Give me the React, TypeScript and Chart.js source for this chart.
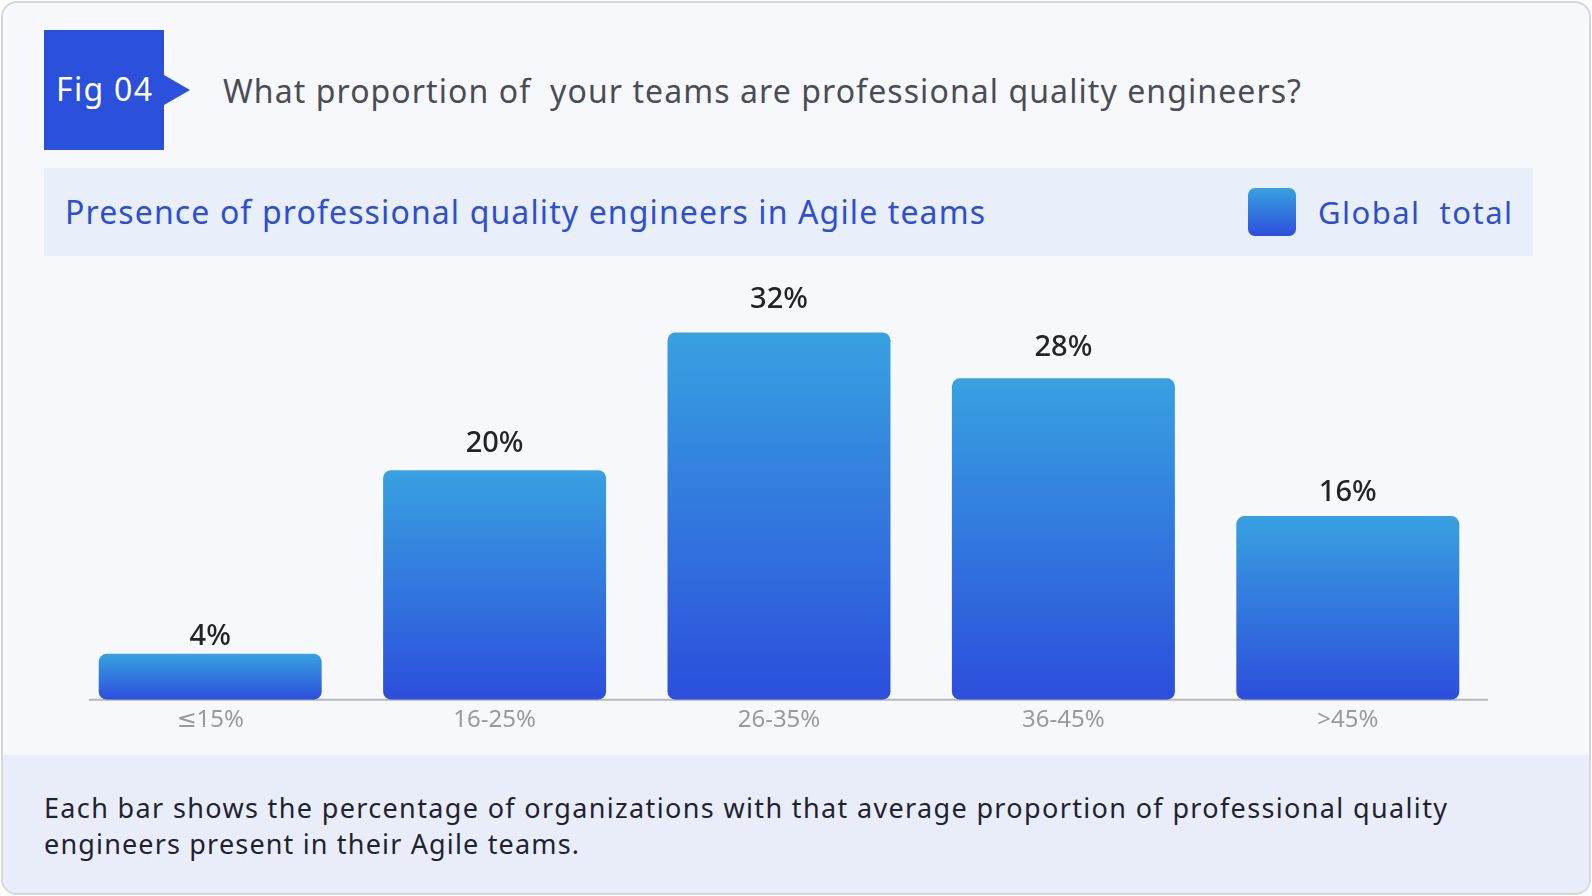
import React, { useEffect, useRef } from 'react';
import Chart from 'chart.js/auto';

const categories = ['≤15%', '16-25%', '26-35%', '36-45%', '>45%'];
const values = [4, 20, 32, 28, 16];
const valueLabels = ['4%', '20%', '32%', '28%', '16%'];

const FAMILY = '"Noto Sans", "DejaVu Sans", sans-serif';
const BLUE = '#2b50dc';
const GRAD_TOP = '#38a1e0';
const GRAD_BOTTOM = '#2c4edc';

const measureCtx = typeof document !== 'undefined' ? document.createElement('canvas').getContext('2d') : null;

function spacingFor(text: string, size: number, weight: number, target: number) {
  if (!measureCtx) return 0;
  measureCtx.font = `${weight} ${size}px ${FAMILY}`;
  const w = measureCtx.measureText(text).width;
  return (target - w) / Math.max(1, text.length - 1);
}

function FitText(props: {
  text: string; size: number; weight?: number; color: string; left: number; centerY: number; target: number;
}) {
  const weight = props.weight ?? 400;
  const ls = spacingFor(props.text, props.size, weight, props.target);
  return (
    <div
      style={{
        position: 'absolute',
        left: props.left,
        top: props.centerY - props.size * 0.53,
        fontFamily: FAMILY,
        fontSize: props.size,
        fontWeight: weight,
        lineHeight: 1,
        color: props.color,
        whiteSpace: 'pre',
        letterSpacing: ls,
      }}
    >
      {props.text}
    </div>
  );
}

const barExtras = {
  id: 'barExtras',
  beforeDatasetsDraw(chart: any) {
    const { ctx, chartArea, scales } = chart;
    const y0 = scales.y.getPixelForValue(0);
    ctx.save();
    ctx.strokeStyle = '#b8b8b8';
    ctx.lineWidth = 2;
    ctx.beginPath();
    ctx.moveTo(chartArea.left + 21, y0);
    ctx.lineTo(chartArea.right - 2, y0);
    ctx.stroke();
    ctx.restore();
  },
  afterDatasetsDraw(chart: any) {
    const { ctx, scales } = chart;
    const meta = chart.getDatasetMeta(0);
    ctx.save();
    ctx.font = `500 29px ${FAMILY}`;
    ctx.fillStyle = '#222428';
    ctx.textAlign = 'center';
    ctx.textBaseline = 'middle';
    meta.data.forEach((bar: any, i: number) => {
      const y = scales.y.getPixelForValue(values[i] * 1.05) - 14.5;
      ctx.fillText(valueLabels[i], bar.x, y);
    });
    ctx.restore();
  },
};

function BarChart() {
  const ref = useRef<HTMLCanvasElement>(null);
  useEffect(() => {
    if (!ref.current) return;
    const chart = new Chart(ref.current, {
      type: 'bar',
      data: {
        labels: categories,
        datasets: [
          {
            label: 'Global  total',
            data: values,
            backgroundColor: (c: any) => {
              const ch = c.chart;
              if (!ch.chartArea || c.raw === undefined) return BLUE;
              const top = ch.scales.y.getPixelForValue(c.raw);
              const bottom = ch.scales.y.getPixelForValue(0);
              const g = ch.ctx.createLinearGradient(0, top, 0, bottom);
              g.addColorStop(0, GRAD_TOP);
              g.addColorStop(1, GRAD_BOTTOM);
              return g;
            },
            borderRadius: 8,
            borderSkipped: false,
            barPercentage: 0.784,
            categoryPercentage: 1,
          },
        ],
      },
      options: {
        responsive: false,
        animation: false,
        layout: { padding: { left: 68, right: 102, top: 15, bottom: 19.5 } },
        plugins: { legend: { display: false }, tooltip: { enabled: false } },
        scales: {
          x: {
            grid: { display: false, drawTicks: false },
            border: { display: false },
            ticks: {
              color: '#9a9a9a',
              font: { family: FAMILY, size: 24, weight: 400 },
              padding: 6,
            },
          },
          y: { display: false, min: 0, max: 37 },
        },
      },
      plugins: [barExtras],
    });
    return () => chart.destroy();
  }, []);
  return (
    <canvas
      ref={ref}
      width={1592}
      height={500}
      style={{ position: 'absolute', left: 0, top: 260, width: 1592, height: 500 }}
    />
  );
}

export default function App() {
  useEffect(() => {
    document.body.style.margin = '0';
  }, []);
  return (
    <div style={{ position: 'relative', width: 1592, height: 896, overflow: 'hidden', background: '#ffffff' }}>
      <div
        style={{
          position: 'absolute', left: 1, top: 1, width: 1586, height: 890,
          border: '2px solid #d3d6db', borderRadius: 16, background: '#f6f8fc', overflow: 'hidden',
        }}
      >
        <div style={{ position: 'absolute', left: 0, right: 0, top: 752, bottom: 0, background: '#e9edfa' }} />
      </div>
      <div style={{ position: 'absolute', left: 44, top: 30, width: 120, height: 120, background: BLUE }} />
      <div
        style={{
          position: 'absolute', left: 164, top: 75, width: 0, height: 0,
          borderTop: '15px solid transparent', borderBottom: '15px solid transparent', borderLeft: `26px solid ${BLUE}`,
        }}
      />
      <FitText text="Fig 04" size={32} color="#ffffff" left={56} centerY={90} target={96} />
      <FitText
        text="What proportion of  your teams are professional quality engineers?"
        size={32} color="#4a4d55" left={223} centerY={91.5} target={1078}
      />
      <div style={{ position: 'absolute', left: 44, top: 168, width: 1489, height: 88, background: '#e9eefb' }} />
      <FitText
        text="Presence of professional quality engineers in Agile teams"
        size={32} color="#2c4fd3" left={65} centerY={212.5} target={920}
      />
      <div
        style={{
          position: 'absolute', left: 1248, top: 188, width: 48, height: 48, borderRadius: 7,
          background: `linear-gradient(to bottom, ${GRAD_TOP}, ${GRAD_BOTTOM})`,
        }}
      />
      <FitText text="Global  total" size={31} color="#2d4fd0" left={1318} centerY={213} target={194} />
      <BarChart />
      <FitText
        text="Each bar shows the percentage of organizations with that average proportion of professional quality"
        size={27} color="#1f2330" left={44} centerY={808.5} target={1403}
      />
      <FitText text="engineers present in their Agile teams." size={27} color="#1f2330" left={44} centerY={844.5} target={535} />
    </div>
  );
}
